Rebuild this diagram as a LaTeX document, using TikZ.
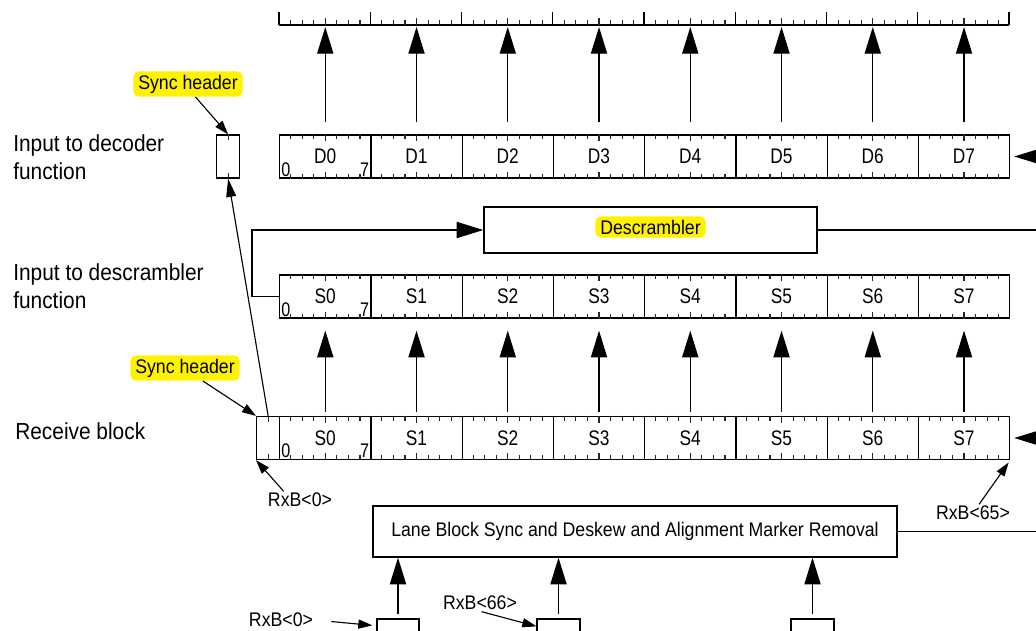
\documentclass[tikz,border=0pt]{standalone}
\usepackage{fontspec}
\setmainfont[FakeStretch=0.9]{Liberation Sans}
\newfontfamily\cellfont[FakeStretch=0.82]{Liberation Sans}
\usetikzlibrary{arrows.meta,calc,positioning}
\tikzset{
  cell/.style={draw, line width=0.9pt, minimum width=2.28125cm, minimum height=1.075cm,
               inner sep=0pt, anchor=west, font=\cellfont\fontsize{15}{17}\selectfont},
  synccell/.style={cell, minimum width=0.575cm},
  celltick/.style={line width=0.8pt, black!85},
  hilite/.style={fill=yellow, rounded corners=4pt, inner xsep=3.5pt, inner ysep=2.5pt,
                 font=\fontsize{14}{16}\selectfont},
  plainlbl/.style={font=\fontsize{14}{16}\selectfont, inner sep=1pt},
  rowlbl/.style={anchor=west, align=left, font=\fontsize{16.5}{20}\selectfont, inner sep=0pt},
  procbox/.style={draw, line width=0.9pt, inner sep=0pt},
  digit/.style={font=\cellfont\fontsize{14}{14}\selectfont, inner sep=1.5pt},
  bigarrow/.style={line width=0.9pt, -{Triangle[length=19pt,width=11.5pt]}},
  midarrow/.style={line width=0.8pt, -{Triangle[length=13pt,width=7pt]}},
  smallarrow/.style={line width=0.8pt, -{Triangle[length=10pt,width=6.5pt]}},
}
\begin{document}
\begin{tikzpicture}[x=0.025cm, y=-0.025cm]
    \useasboundingbox (0,0) rectangle (1036,630);
    \clip (0,0) rectangle (1036,630);

    % row labels
    \node[rowlbl] (ldec) at (13,157) {Input to decoder\\function};
    \node[rowlbl] (ldesc) at (13,286.5) {Input to descrambler\\function};
    \node[rowlbl] (lrx) at (15,431) {Receive block};

    % decoder input
    \node[synccell] (dsync) at (216,156.5) {};
    \node[cell] (d0) at (279.00,156.5) {D0};
    \node[cell] (d1) at (370.25,156.5) {D1};
    \node[cell] (d2) at (461.50,156.5) {D2};
    \node[cell] (d3) at (552.75,156.5) {D3};
    \node[cell] (d4) at (644.00,156.5) {D4};
    \node[cell] (d5) at (735.25,156.5) {D5};
    \node[cell] (d6) at (826.50,156.5) {D6};
    \node[cell] (d7) at (917.75,156.5) {D7};

    % descrambler input
    \node[cell] (s0) at (279.00,296.5) {S0};
    \node[cell] (s1) at (370.25,296.5) {S1};
    \node[cell] (s2) at (461.50,296.5) {S2};
    \node[cell] (s3) at (552.75,296.5) {S3};
    \node[cell] (s4) at (644.00,296.5) {S4};
    \node[cell] (s5) at (735.25,296.5) {S5};
    \node[cell] (s6) at (826.50,296.5) {S6};
    \node[cell] (s7) at (917.75,296.5) {S7};

    % receive block
    \node[synccell] (rsync) at (256,438) {};
    \node[cell] (r0) at (279.00,438) {S0};
    \node[cell] (r1) at (370.25,438) {S1};
    \node[cell] (r2) at (461.50,438) {S2};
    \node[cell] (r3) at (552.75,438) {S3};
    \node[cell] (r4) at (644.00,438) {S4};
    \node[cell] (r5) at (735.25,438) {S5};
    \node[cell] (r6) at (826.50,438) {S6};
    \node[cell] (r7) at (917.75,438) {S7};

    % bit ticks inside the cells
    \foreach \row in {d,s,r} {
      \node[digit, anchor=south west] (\row0lo) at (\row0.south west) {0};
      \node[digit, anchor=south east] (\row0hi) at (\row0.south east) {7};
      \foreach \i in {0,...,7} {
        \foreach \k in {1,...,7} {
          \pgfmathsetmacro\tl{\k==4 ? 7 : 5}
          \draw[celltick] ($(\row\i.north west)!\k/8!(\row\i.north east)$) -- ++(0,\tl);
          \draw[celltick] ($(\row\i.south west)!\k/8!(\row\i.south east)$) -- ++(0,-\tl);
        }
      }
    }
    \draw[celltick] (dsync.north) -- ++(0,6);
    \draw[celltick] (dsync.south) -- ++(0,-6);
    \draw[celltick] (rsync.north) -- ++(0,6);
    \draw[celltick] (rsync.south) -- ++(0,-6);

    % output ruler
    \coordinate (rl) at (279,25);
    \coordinate (rr) at (1009,25);
    \draw[line width=0.9pt] (rl) -- (rr);
    \foreach \i in {0,...,7} {
      \draw[line width=0.9pt] (d\i.west |- rl) -- ++(0,-13);
      \foreach \k in {1,...,7} {
        \pgfmathsetmacro\tl{\k==4 ? 7 : 5}
        \draw[celltick] ($(d\i.west |- rl)!\k/8!(d\i.east |- rl)$) -- ++(0,-\tl);
      }
      \draw[bigarrow, shorten <=0.3cm, shorten >=0.05cm] (d\i.north) -- (d\i.north |- rl);
      \draw[bigarrow, shorten <=0.1cm, shorten >=0.3cm] (r\i.north) -- (s\i.south);
    }
    \draw[line width=0.9pt] (rr) -- ++(0,-13);

    % descrambler
    \node[procbox, minimum width=8.325cm, minimum height=1.15cm] (descr) at (650.5,230) {};
    \node[hilite] (descrtxt) at (650.5,227) {Descrambler};
    \coordinate (fb) at (252,296.5);
    \draw[bigarrow] (s0.west) -- (fb) |- (descr.west);
    \coordinate (descrout) at (1060,230);
    \draw[line width=0.9pt] (descr.east) -- (descrout);

    % inputs from the right
    \coordinate (dinr) at (1060,156.5);
    \coordinate (rinr) at (1060,438);
    \draw[bigarrow, shorten >=0.1cm] (dinr) -- (d7.east);
    \draw[bigarrow, shorten >=0.1cm] (rinr) -- (r7.east);

    % sync header
    \node[hilite] (synchd) at (188,84) {Sync header};
    \node[hilite] (syncrx) at (185,368) {Sync header};
    \draw[smallarrow] (synchd.-60) -- (dsync.north);
    \draw[smallarrow] (syncrx.-36) -- (rsync.north west);
    \draw[midarrow] (rsync.north) -- (dsync.south);

    % bit positions
    \node[plainlbl] (rxb0) at (300,500) {RxB<0>};
    \node[plainlbl] (rxb65) at (973,513) {RxB<65>};
    \draw[smallarrow] (rxb0.152) -- (rsync.south west);
    \draw[smallarrow, shorten >=2pt] (rxb65.55) -- (r7.south east);

    % lane block sync
    \node[procbox, minimum width=13.1cm, minimum height=1.275cm, font=\fontsize{14}{16}\selectfont]
      (lane) at (635,531.5) {Lane Block Sync and Deskew and Alignment Marker Removal};
    \coordinate (laneout) at (1060,531.5);
    \draw[line width=0.9pt] (lane.east) -- (laneout);
    \node[procbox, minimum width=1.05cm, minimum height=1.05cm] (lb0) at (398,640) {};
    \node[procbox, minimum width=1.075cm, minimum height=1.05cm] (lb1) at (558.5,640) {};
    \node[procbox, minimum width=1.075cm, minimum height=1.05cm] (lb2) at (812.5,640) {};
    \foreach \b in {lb0,lb1,lb2}
      \draw[bigarrow, shorten <=0.1cm] (\b.north) -- (\b.north |- lane.south);
    \node[plainlbl] (rxb66) at (480,603) {RxB<66>};
    \draw[smallarrow] (rxb66.-80) -- ($(lb1.north west)+(0,8)$);
    \node[plainlbl] (rxb0b) at (281,620) {RxB<0>};
    \draw[smallarrow, shorten <=0.42cm] (rxb0b.east) -- ($(lb0.north west)+(-4,7)$);
\end{tikzpicture}
\end{document}
